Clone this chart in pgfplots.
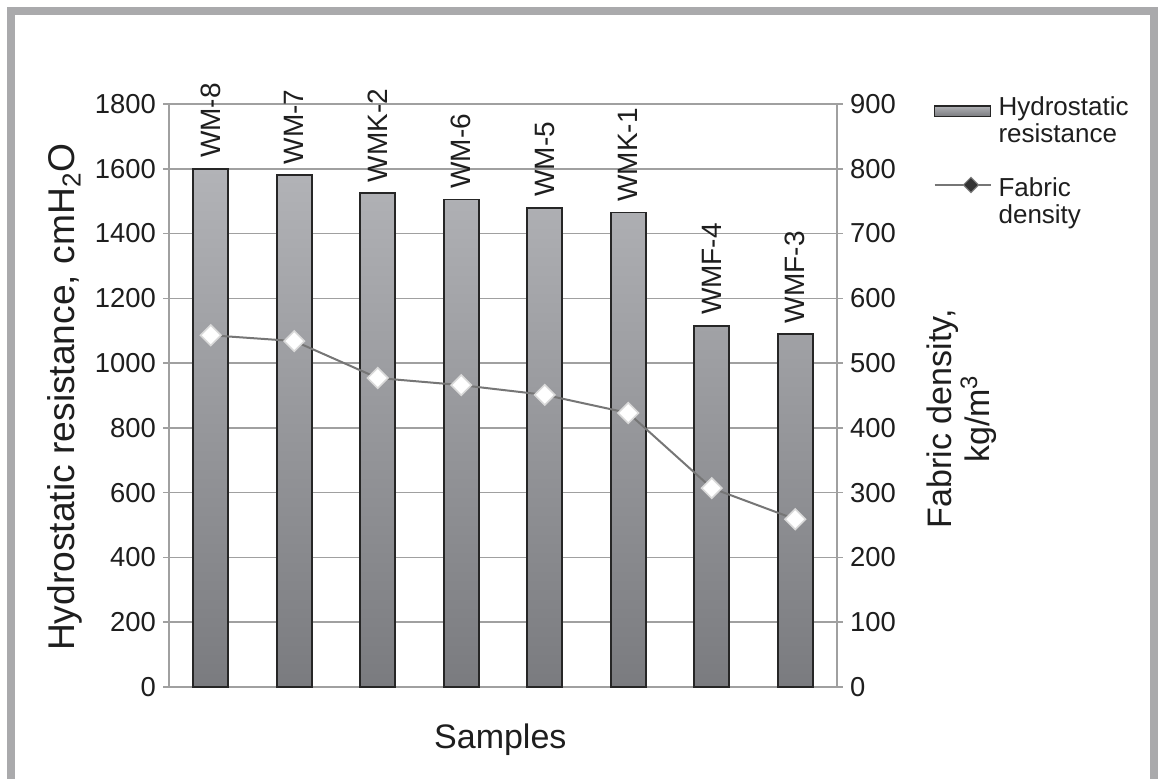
\documentclass[border=0pt]{standalone}
\usepackage{fontspec}
\setmainfont{Liberation Sans}
\usepackage{pgfplots}
\pgfplotsset{compat=1.18}
\usepackage{pgfplotstable}
\usetikzlibrary{shapes.geometric}

\definecolor{framegray}{RGB}{170,170,172}
\definecolor{gridgray}{RGB}{160,160,160}
\definecolor{bartop}{RGB}{178,179,183}
\definecolor{barbot}{RGB}{122,123,127}
\definecolor{linegray}{RGB}{118,118,118}
\definecolor{txt}{RGB}{30,30,30}

\pgfplotstableread{
x label hr fd
0 WM-8 1600 543
1 WM-7 1580 534
2 WMK-2 1525 477
3 WM-6 1505 466
4 WM-5 1480 451
5 WMK-1 1465 423
6 WMF-4 1115 307
7 WMF-3 1090 259
}\data

\pgfplotsset{
  common/.style={
    at={(84.5pt,46pt)}, anchor=south west,
    scale only axis, width=334pt, height=291.5pt,
    xmin=-0.5, xmax=7.5, xtick=\empty,
    axis line style={gridgray, line width=0.8pt},
    tick style={gridgray, line width=0.8pt},
    tick align=outside, major tick length=3pt,
    ticklabel style={font=\fontsize{13.7}{14}\selectfont, text=txt},
    /pgf/number format/assume math mode=true,
    /pgf/number format/1000 sep={},
    label style={font=\fontsize{17}{19}\selectfont, text=txt},
    clip=false,
  },
}

\begin{document}
\begin{tikzpicture}[x=1pt,y=1pt]
\useasboundingbox (0,0) rectangle (581.5,389.5);
\fill[white] (0,0) rectangle (581.5,389.5);
\draw[framegray, line width=4pt] (5.5,0) -- (5.5,383.75) -- (577,383.75) -- (577,0);

\begin{axis}[common,
  ymin=0, ymax=1800, ytick distance=200,
  axis y line*=left, axis x line*=bottom,
  ymajorgrids, grid style={gridgray, line width=0.8pt},
  xlabel={Samples},
  xlabel style={at={(axis description cs:0.496,-0.091)}, anchor=center},
  ylabel={Hydrostatic resistance, cmH\textsubscript{2}O},
  ylabel style={at={(axis description cs:-0.156,0.497)}, anchor=center, rotate=0,
    font=\fontsize{18.6}{20}\selectfont},
]
\addplot[ybar, bar width=17.5pt, top color=bartop, bottom color=barbot,
  draw=black!85, line width=0.9pt,
  point meta=explicit symbolic,
  nodes near coords,
  nodes near coords style={rotate=90, anchor=west, inner xsep=5pt,
    font=\fontsize{14}{14}\selectfont, text=txt}]
  table[x=x, y=hr, meta=label] {\data};
\end{axis}

\begin{axis}[common,
  ymin=0, ymax=900, ytick distance=100,
  axis y line*=right, axis x line=none,
  ylabel={Fabric density,\\kg/m\textsuperscript{3}},
  ylabel style={at={(axis description cs:1.187,0.46)}, anchor=center, align=center, rotate=0},
  legend cell align=left,
  legend style={at={(axis description cs:1.144,1.02)}, anchor=north west,
    draw=none, fill=none, inner sep=0pt, row sep=12pt,
    nodes={align=left, font=\fontsize{13}{13.5}\selectfont, text=txt, inner xsep=3.5pt}},
]
\addlegendimage{legend image code/.code={
  \draw[top color=bartop, bottom color=barbot, draw=black!85, line width=0.9pt]
    (0pt,2.3pt) rectangle (28pt,7.7pt);}}
\addlegendentry{Hydrostatic\\resistance}
\addlegendimage{legend image code/.code={
  \draw[linegray, line width=1pt] (0pt,8.5pt) -- (28pt,8.5pt);
  \node[diamond, fill=black!80, draw=gray, line width=0.5pt, inner sep=1.6pt] at (14pt,8.5pt) {};}}
\addlegendentry{Fabric\\density}
\addplot[linegray, line width=1pt, mark=square*, mark size=3.6pt,
  mark options={rotate=45, fill=white, draw=gray!30, line width=0.8pt}]
  table[x=x, y=fd] {\data};
\end{axis}
\end{tikzpicture}
\end{document}
